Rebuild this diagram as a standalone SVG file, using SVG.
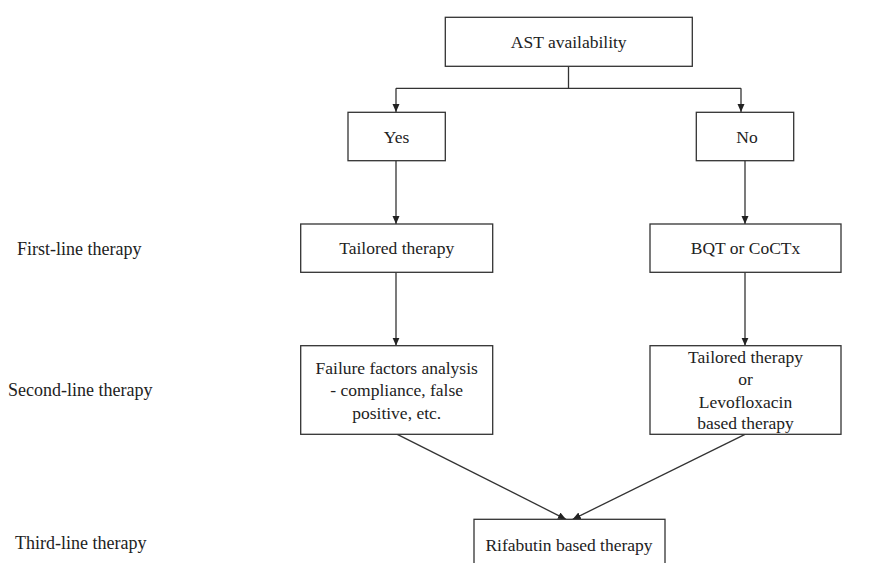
<svg xmlns="http://www.w3.org/2000/svg" width="870" height="563" viewBox="0 0 870 563">
<style>
.box{fill:#fff;stroke:#333;stroke-width:1.3}
.t{font-family:"Liberation Serif","Times New Roman",serif;font-size:17.5px;fill:#222;text-anchor:middle;dominant-baseline:central}
.lbl{font-family:"Liberation Serif","Times New Roman",serif;font-size:18px;fill:#222;dominant-baseline:central}
.c{fill:none;stroke:#333;stroke-width:1.3}
</style>
<defs>
<marker id="ah" markerUnits="userSpaceOnUse" markerWidth="9" markerHeight="8" refX="8" refY="3.5" orient="auto">
<path d="M0,0 L8,3.5 L0,7 z" fill="#222"/>
</marker>
</defs>
<rect width="870" height="563" fill="#fff"/>
<g id="labels">
<text class="lbl" x="17" y="249">First-line therapy</text>
<text class="lbl" x="8" y="390">Second-line therapy</text>
<text class="lbl" x="15" y="543">Third-line therapy</text>
</g>
<g id="connectors">
<path class="c" d="M568.5,66.3 V88.3"/>
<path class="c" d="M396,88.3 H741"/>
<path class="c" d="M396,88.3 V112" marker-end="url(#ah)"/>
<path class="c" d="M741,88.3 V112" marker-end="url(#ah)"/>
<path class="c" d="M396,160.7 V224" marker-end="url(#ah)"/>
<path class="c" d="M745,160.7 V224" marker-end="url(#ah)"/>
<path class="c" d="M396,272.3 V345.7" marker-end="url(#ah)"/>
<path class="c" d="M745,272.3 V345.7" marker-end="url(#ah)"/>
<path class="c" d="M397.3,434.3 L566,519.3" marker-end="url(#ah)"/>
<path class="c" d="M745,434.3 L572.7,519.3" marker-end="url(#ah)"/>
</g>
<g id="ast">
<rect class="box" x="445.3" y="17.3" width="247" height="49"/>
<text class="t" x="568.7" y="41.7">AST availability</text>
</g>
<g id="yes">
<rect class="box" x="348" y="112.3" width="97.3" height="48.4"/>
<text class="t" x="396.5" y="136.5">Yes</text>
</g>
<g id="no">
<rect class="box" x="696.3" y="112.3" width="97.4" height="48.4"/>
<text class="t" x="747" y="136.5">No</text>
</g>
<g id="tailored">
<rect class="box" x="300.7" y="224" width="192" height="48.3"/>
<text class="t" x="396.7" y="248.3">Tailored therapy</text>
</g>
<g id="bqt">
<rect class="box" x="650" y="224" width="191" height="48.3"/>
<text class="t" x="745.5" y="248.3">BQT or CoCTx</text>
</g>
<g id="failure">
<rect class="box" x="300.7" y="345.7" width="192" height="88.6"/>
<text class="t" x="396.7" y="368.3">Failure factors analysis</text>
<text class="t" x="396.7" y="390">- compliance, false</text>
<text class="t" x="396.7" y="412.7">positive, etc.</text>
</g>
<g id="second-no">
<rect class="box" x="650" y="345.7" width="191" height="88.6"/>
<text class="t" x="745.5" y="357.3">Tailored therapy</text>
<text class="t" x="745.5" y="379.3">or</text>
<text class="t" x="745.5" y="401.7">Levofloxacin</text>
<text class="t" x="745.5" y="423.3">based therapy</text>
</g>
<g id="rifabutin">
<rect class="box" x="474" y="519.3" width="191" height="60"/>
<text class="t" x="569" y="545">Rifabutin based therapy</text>
</g>
</svg>
